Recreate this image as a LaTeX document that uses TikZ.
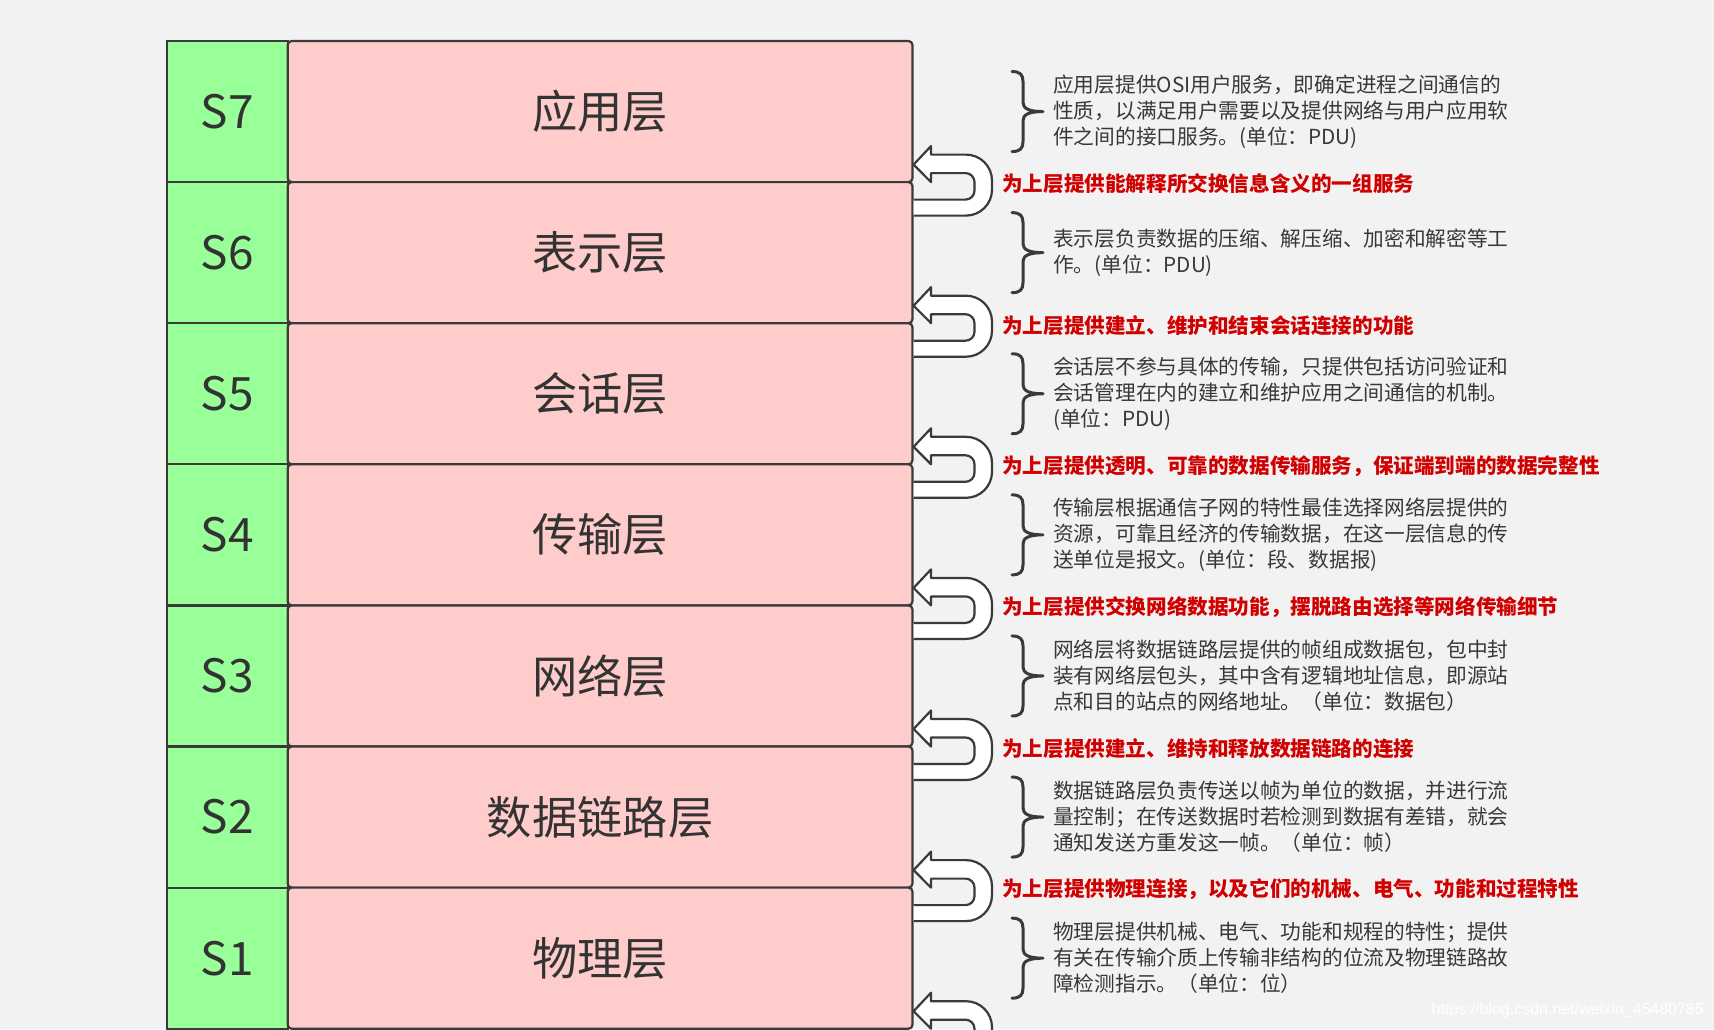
\documentclass[tikz,border=0pt]{standalone}
\usepackage{fontspec}
\setmainfont{Noto Sans CJK SC}
\newfontfamily\wmfont{Liberation Sans}
\definecolor{bgc}{HTML}{F2F2F2}
\definecolor{edgec}{HTML}{3A3A3A}
\definecolor{greenc}{HTML}{99FF99}
\definecolor{pinkc}{HTML}{FFCCCC}
\definecolor{labelc}{HTML}{333333}
\definecolor{descc}{HTML}{383838}
\definecolor{redc}{HTML}{D00000}
\begin{document}
\begin{tikzpicture}[x=1pt,y=-1pt,
  greencell/.style={draw=edgec, fill=greenc, line width=2.2pt, minimum width=120.7pt, minimum height=141.1pt, inner sep=0pt, outer sep=0pt, anchor=north west, text=labelc, font=\fontsize{46}{46}\selectfont},
  pinkcell/.style={draw=edgec, fill=pinkc, line width=2.2pt, rounded corners=4pt, minimum width=624.8pt, minimum height=141.1pt, inner sep=0pt, outer sep=0pt, anchor=north west, text=labelc, font=\fontsize{45.3}{46}\selectfont},
  desctext/.style={anchor=west, align=left, text=descc, inner sep=0pt, font=\fontsize{20.7}{26}\selectfont},
  service/.style={anchor=west, inner sep=0pt, text=redc, font=\fontsize{20.6}{25}\selectfont\bfseries},
  uarrow/.pic={
    \filldraw[fill=white, draw=edgec, line width=2.2pt, line join=round]
      (1.1,33.5) -- (53.5,33.5) arc[start angle=90, end angle=0, radius=26]
      -- (79.5,-1.5) arc[start angle=0, end angle=-90, radius=26]
      -- (18.5,-27.5) -- (18.5,-36) -- (1.1,-17.5) -- (18.5,0) -- (18.5,-9)
      -- (53,-9) arc[start angle=-90, end angle=0, radius=9]
      -- (62,8.5) arc[start angle=0, end angle=90, radius=9]
      -- (1.1,17.5);
  },
  cbrace/.pic={
    \draw[edgec, line width=3pt, line cap=round, line join=round]
      (0,-40) .. controls (8,-40) and (11,-37) .. (11,-30) -- (11,-9)
      .. controls (11,-3) and (17,0) .. (31,0)
      .. controls (17,0) and (11,3) .. (11,9) -- (11,30)
      .. controls (11,37) and (8,40) .. (0,40);
  }
]
\useasboundingbox (0,0) rectangle (1714,1029);
\clip (0,0) rectangle (1714,1029);
\fill[bgc] (0,0) rectangle (1714,1029);

% layers
\node[greencell] (g7) at (167,41) {S7};
\node[pinkcell]  (p7) at (287.7,41) {应用层};
\node[greencell] (g6) at (167,182.1) {S6};
\node[pinkcell]  (p6) at (287.7,182.1) {表示层};
\node[greencell] (g5) at (167,323.2) {S5};
\node[pinkcell]  (p5) at (287.7,323.2) {会话层};
\node[greencell] (g4) at (167,464.3) {S4};
\node[pinkcell]  (p4) at (287.7,464.3) {传输层};
\node[greencell] (g3) at (167,605.4) {S3};
\node[pinkcell]  (p3) at (287.7,605.4) {网络层};
\node[greencell] (g2) at (167,746.5) {S2};
\node[pinkcell]  (p2) at (287.7,746.5) {数据链路层};
\node[greencell] (g1) at (167,887.6) {S1};
\node[pinkcell]  (p1) at (287.7,887.6) {物理层};

% return arrows between layers
\foreach \n in {7,6,5,4,3,2,1}
  \pic at (p\n.south east) {uarrow};

% braces
\foreach \n in {7,6,5,4,3,2,1}
  \pic at ([xshift=99.5pt]p\n.east) {cbrace};

% descriptions
\node[desctext] (d7) at ([xshift=140.5pt]p7.east) {应用层提供OSI用户服务，即确定进程之间通信的\\性质，以满足用户需要以及提供网络与用户应用软\\件之间的接口服务。(单位：PDU)};
\node[desctext] (d6) at ([xshift=140.5pt]p6.east) {表示层负责数据的压缩、解压缩、加密和解密等工\\作。(单位：PDU)};
\node[desctext] (d5) at ([xshift=140.5pt]p5.east) {会话层不参与具体的传输，只提供包括访问验证和\\会话管理在内的建立和维护应用之间通信的机制。\\(单位：PDU)};
\node[desctext] (d4) at ([xshift=140.5pt]p4.east) {传输层根据通信子网的特性最佳选择网络层提供的\\资源，可靠且经济的传输数据，在这一层信息的传\\送单位是报文。(单位：段、数据报)};
\node[desctext] (d3) at ([xshift=140.5pt]p3.east) {网络层将数据链路层提供的帧组成数据包，包中封\\装有网络层包头，其中含有逻辑地址信息，即源站\\点和目的站点的网络地址。（单位：数据包）};
\node[desctext] (d2) at ([xshift=140.5pt]p2.east) {数据链路层负责传送以帧为单位的数据，并进行流\\量控制；在传送数据时若检测到数据有差错，就会\\通知发送方重发这一帧。（单位：帧）};
\node[desctext] (d1) at ([xshift=140.5pt]p1.east) {物理层提供机械、电气、功能和规程的特性；提供\\有关在传输介质上传输非结构的位流及物理链路故\\障检测指示。（单位：位）};

% services offered to the upper layer
\node[service] (r6) at ([xshift=89.5pt,yshift=-2pt]p7.south east) {为上层提供能解释所交换信息含义的一组服务};
\node[service] (r5) at ([xshift=89.5pt,yshift=-2pt]p6.south east) {为上层提供建立、维护和结束会话连接的功能};
\node[service] (r4) at ([xshift=89.5pt,yshift=-2pt]p5.south east) {为上层提供透明、可靠的数据传输服务，保证端到端的数据完整性};
\node[service] (r3) at ([xshift=89.5pt,yshift=-2pt]p4.south east) {为上层提供交换网络数据功能，摆脱路由选择等网络传输细节};
\node[service] (r2) at ([xshift=89.5pt,yshift=-2pt]p3.south east) {为上层提供建立、维持和释放数据链路的连接};
\node[service] (r1) at ([xshift=89.5pt,yshift=-2pt]p2.south east) {为上层提供物理连接，以及它们的机械、电气、功能和过程特性};

% watermark
\node[anchor=east, inner sep=0pt, text=white, font=\wmfont\fontsize{16}{16}\selectfont] (wm) at (1704,1010) {https://blog.csdn.net/weixin\_45480785};
\end{tikzpicture}
\end{document}
